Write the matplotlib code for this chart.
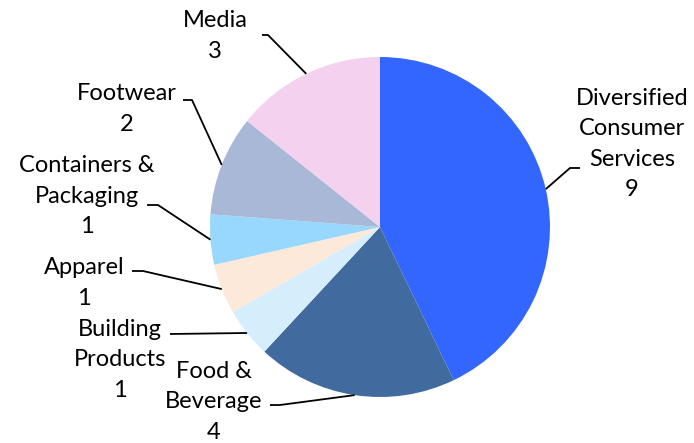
import numpy as np
import matplotlib.pyplot as plt

# slice data, clockwise from 12 o'clock
sectors = ['Diversified\nConsumer\nServices', 'Food &\nBeverage', 'Building\nProducts',
           'Apparel', 'Containers &\nPackaging', 'Footwear', 'Media']
counts = [9, 4, 1, 1, 1, 2, 3]
colors = ['#3366FF', '#416B9E', '#D6EEFB', '#FDE9DA', '#99D8FE', '#A9B8D6', '#F4D1EE']

W, H = 694, 443
cx, cy, r = 380, H - 227, 170

# label block centres and leader-line start (text side), in pixel coords from top
label_pos = [(632, 144), (214, 402), (120, 360), (84, 283), (87, 196), (127, 109), (215, 36)]
leader_start = [(580, 168, -10), (270, 405, 10), (170, 334, 0), (132, 271, 11),
                (147, 205, 11), (183, 100, 9), (262, 35, 6)]

fig = plt.figure(figsize=(W / 100, H / 100), dpi=100)
ax = fig.add_axes([0, 0, 1, 1])

wedges, _ = ax.pie(counts, colors=colors, startangle=90, counterclock=False,
                   center=(cx, cy), radius=r, wedgeprops=dict(linewidth=0))
# pie() resets the limits, so set them afterwards
ax.set_xlim(0, W)
ax.set_ylim(0, H)
ax.set_aspect('equal')
ax.axis('off')

for w, name, n, (lx, ly), (sx, sy, h) in zip(wedges, sectors, counts, label_pos, leader_start):
    mid = np.deg2rad((w.theta1 + w.theta2) / 2)
    ex, ey = cx + r * np.cos(mid), cy + r * np.sin(mid)
    ax.plot([sx, sx + h, ex], [H - sy, H - sy, ey], color='black', lw=1.3,
            solid_capstyle='butt')
    ax.text(lx, H - ly, f'{name}\n{n}', ha='center', va='center', fontsize=17,
            family='Lato', linespacing=1.55, color='black')

fig.savefig('out.png', dpi=100)
